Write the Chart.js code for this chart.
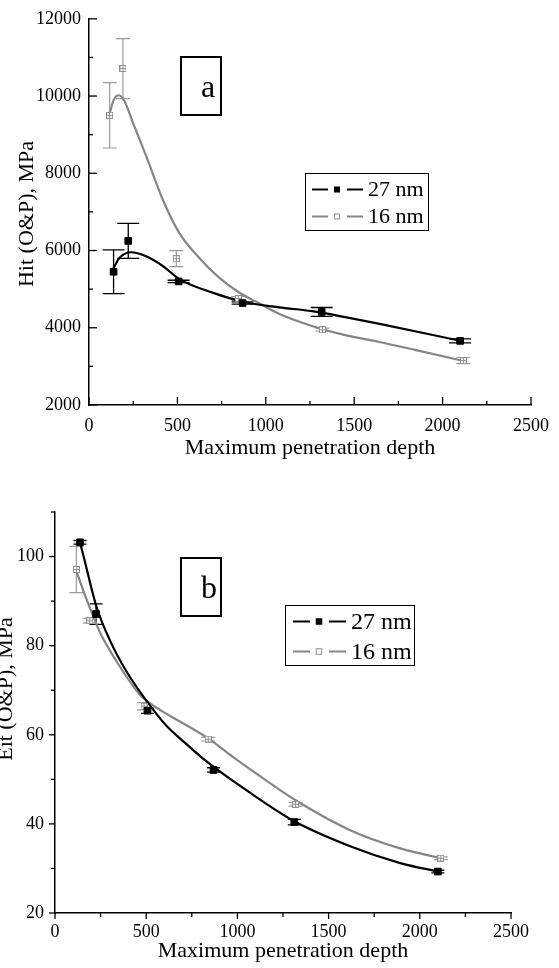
<!DOCTYPE html>
<html>
<head>
<meta charset="utf-8">
<script src="https://cdn.jsdelivr.net/npm/chart.js@4.4.1/dist/chart.umd.min.js"></script>
<style>
  html, body { margin: 0; padding: 0; background: #fff; }
  body { width: 559px; height: 968px; position: relative; overflow: hidden; }
  #c1 { position: absolute; left: 0; top: 0; }
  #c2 { position: absolute; left: -20px; top: 470px; }
</style>
</head>
<body>
<canvas id="c1" width="559" height="480" style="width:559px;height:480px"></canvas>
<canvas id="c2" width="579" height="498" style="width:579px;height:498px"></canvas>
<script>
// ---------- Data ----------
// Panel a: Hit (O&P), MPa
const depthA27 = [139, 222, 507, 869, 1316, 2099];
const hitA27 = [5450, 6250, 5200, 4640, 4410, 3660];
const hitA27Err = [565, 455, 30, 30, 115, 50];
const depthA16 = [117, 192, 494, 845, 1320, 2117];
const hitA16 = [9500, 10710, 5790, 4760, 3950, 3150];
const hitA16Err = [845, 775, 205, 50, 40, 80];
// fitted curves
const fitA27X = [135, 173, 239, 323, 417, 511, 698, 886, 1074, 1261, 1449, 1637, 2099];
const fitA27Y = [5510, 5810, 5955, 5850, 5600, 5260, 4910, 4660, 4530, 4430, 4276, 4107, 3663];
const fitA16X = [117, 140, 168, 200, 248, 323, 417, 511, 624, 736, 849, 962, 1074, 1261, 1449, 1637, 1850, 2106];
const fitA16Y = [9550, 9900, 10020, 9870, 9320, 8450, 7320, 6450, 5808, 5297, 4914, 4633, 4362, 4046, 3808, 3637, 3420, 3152];

// Panel b: Eit (O&P), MPa
const depthB27 = [137, 225, 507, 869, 1312, 2099];
const eitB27 = [103.2, 87.1, 65.4, 52.1, 40.4, 29.3];
const eitB27Err = [0.4, 2.3, 0.6, 0.5, 0.6, 0.3];
const depthB16 = [117, 190, 488, 840, 1319, 2115];
const eitB16 = [97.1, 85.6, 66.4, 59.0, 44.4, 32.3];
const eitB16Err = [5.2, 0.5, 0.8, 0.4, 0.4, 0.3];
const fitB27X = [137, 160, 227, 300, 392, 502, 611, 721, 822, 1069, 1312, 1618, 1893, 2099];
const fitB27Y = [103.2, 99.5, 88.8, 81.3, 74.2, 67.6, 62.0, 57.9, 54.3, 47.0, 40.6, 35.0, 31.2, 29.3];
const fitB16X = [117, 172, 218, 246, 337, 465, 510, 840, 977, 1069, 1319, 1618, 1893, 2115];
const fitB16Y = [96.8, 90.5, 85.8, 83.0, 76.5, 69.0, 67.4, 59.2, 55.0, 52.3, 45.3, 38.6, 34.5, 32.3];

// Axis ranges / tick labels
const xRange = [0, 2500];
const xStep = 500;
const yRangeA = [2000, 12000];
const yStepA = 2000;
const yRangeB = [20, 110];
const yStepB = 20;

const seriesNames = ['27 nm', '16 nm'];
const panelLetters = ['a', 'b'];
const xTitle = 'Maximum penetration depth';
const yTitleA = 'Hit (O&P), MPa';
const yTitleB = 'Eit (O&P), MPa';

// ---------- helpers ----------
const SERIF = '"Liberation Serif", "Times New Roman", Times, serif';
Chart.defaults.font.family = SERIF;
Chart.defaults.color = '#000';

const zip = (xs, ys) => xs.map((x, i) => ({ x, y: ys[i] }));
const plain = v => String(v);
const GRAY_LINE = '#858585';
const GRAY_MARK = '#8f8f8f';

function grayMarker(size) {
  const c = document.createElement('canvas');
  c.width = size; c.height = size;
  const g = c.getContext('2d');
  g.fillStyle = '#fff';
  g.fillRect(0, 0, size, size);
  g.strokeStyle = GRAY_MARK;
  g.lineWidth = 1;
  g.strokeRect(0.5, 0.5, size - 1, size - 1);
  g.beginPath();
  g.moveTo(size / 2, 0); g.lineTo(size / 2, size);
  g.moveTo(0, size / 2); g.lineTo(size, size / 2);
  g.stroke();
  return c;
}

const errorBars = {
  id: 'errorBars',
  beforeDatasetsDraw(chart) {
    const { ctx } = chart;
    const xs = chart.scales.x, ys = chart.scales.y;
    chart.data.datasets.forEach(ds => {
      if (!ds.errors) return;
      ctx.save();
      ctx.strokeStyle = ds.errorColor;
      ctx.lineWidth = ds.errorWidth || 1;
      ds.data.forEach((p, j) => {
        const e = ds.errors[j];
        const px = xs.getPixelForValue(p.x);
        const t = ys.getPixelForValue(p.y + e);
        const b = ys.getPixelForValue(p.y - e);
        const hw = ds.capHalf;
        ctx.beginPath();
        ctx.moveTo(px, t); ctx.lineTo(px, b);
        ctx.moveTo(px - hw, t); ctx.lineTo(px + hw, t);
        ctx.moveTo(px - hw, b); ctx.lineTo(px + hw, b);
        ctx.stroke();
      });
      ctx.restore();
    });
  }
};

const decor = {
  id: 'decor',
  afterDraw(chart, args, o) {
    const ctx = chart.ctx;
    const xs = chart.scales.x, ys = chart.scales.y;
    const area = chart.chartArea;
    const dir = o.inward ? 1 : -1;
    ctx.save();
    ctx.strokeStyle = '#000';
    ctx.lineWidth = 1.3;
    // x ticks
    for (let v = xs.min; v <= xs.max + 1e-6; v += o.xMinor) {
      const major = Math.abs(((v - xs.min) / o.xMajor) - Math.round((v - xs.min) / o.xMajor)) < 1e-6;
      const len = major ? o.majorLen : o.minorLen;
      const px = xs.getPixelForValue(v);
      ctx.beginPath();
      ctx.moveTo(px, area.bottom);
      ctx.lineTo(px, area.bottom - dir * len);
      ctx.stroke();
    }
    // y ticks
    for (let v = ys.min; v <= ys.max + 1e-6; v += o.yMinor) {
      const major = Math.abs(((v - ys.min) / o.yMajor) - Math.round((v - ys.min) / o.yMajor)) < 1e-6;
      const len = major ? o.majorLen : o.minorLen;
      const py = ys.getPixelForValue(v);
      ctx.beginPath();
      ctx.moveTo(area.left, py);
      ctx.lineTo(area.left + dir * len, py);
      ctx.stroke();
    }
    // y-axis title
    const yt = o.yTitle;
    ctx.save();
    ctx.translate(yt.x, yt.y);
    ctx.rotate(-Math.PI / 2);
    ctx.fillStyle = '#000';
    ctx.font = yt.size + 'px ' + SERIF;
    ctx.textAlign = 'center';
    ctx.textBaseline = 'middle';
    ctx.fillText(yt.text, 0, 0);
    ctx.restore();
    // panel letter box
    const bx = o.box;
    ctx.lineWidth = 2;
    ctx.strokeStyle = '#000';
    ctx.strokeRect(bx.x, bx.y, bx.w, bx.h);
    ctx.fillStyle = '#000';
    ctx.font = bx.size + 'px ' + SERIF;
    ctx.textAlign = 'left';
    ctx.textBaseline = 'alphabetic';
    ctx.fillText(bx.text, bx.tx, bx.ty);
    // legend
    const L = o.legend;
    ctx.lineWidth = 1;
    ctx.strokeStyle = '#000';
    ctx.strokeRect(L.x + 0.5, L.y + 0.5, L.w, L.h);
    L.rows.forEach(r => {
      ctx.strokeStyle = r.color;
      ctx.lineWidth = 2;
      ctx.beginPath();
      ctx.moveTo(L.l1[0], r.y); ctx.lineTo(L.l1[1], r.y);
      ctx.moveTo(L.l2[0], r.y); ctx.lineTo(L.l2[1], r.y);
      ctx.stroke();
      const s = L.sq;
      if (r.filled) {
        ctx.fillStyle = r.color;
        ctx.fillRect(L.sqx - s / 2, r.y - s / 2, s, s);
      } else {
        ctx.fillStyle = '#fff';
        ctx.fillRect(L.sqx - s / 2, r.y - s / 2, s, s);
        ctx.lineWidth = 1;
        ctx.strokeStyle = GRAY_MARK;
        ctx.strokeRect(L.sqx - s / 2 + 0.5, r.y - s / 2 + 0.5, s - 1, s - 1);
      }
      ctx.fillStyle = '#000';
      ctx.font = L.size + 'px ' + SERIF;
      ctx.textBaseline = 'middle';
      ctx.fillText(r.text, L.tx, r.y + 1);
    });
    ctx.restore();
  }
};

function makeChart(id, cfg) {
  return new Chart(document.getElementById(id), {
    type: 'scatter',
    data: {
      datasets: [
        { label: seriesNames[0], data: zip(cfg.x27, cfg.y27), showLine: false,
          pointStyle: 'rect', pointRadius: 4.7, pointHoverRadius: 4.7,
          backgroundColor: '#000', borderColor: '#000', borderWidth: 1,
          errors: cfg.e27, errorColor: '#000', errorWidth: 1.3, capHalf: cfg.cap27 },
        { label: seriesNames[1], data: zip(cfg.x16, cfg.y16), showLine: false,
          pointStyle: grayMarker(7), pointRadius: 4, backgroundColor: '#fff', borderColor: GRAY_MARK,
          errors: cfg.e16, errorColor: '#9a9a9a', errorWidth: 1.2, capHalf: cfg.cap16 },
        { label: seriesNames[0] + ' fit', data: zip(cfg.fx27, cfg.fy27), showLine: true,
          borderColor: '#000', borderWidth: 2.2, pointRadius: 0, cubicInterpolationMode: 'monotone' },
        { label: seriesNames[1] + ' fit', data: zip(cfg.fx16, cfg.fy16), showLine: true,
          borderColor: GRAY_LINE, borderWidth: 2.2, pointRadius: 0, cubicInterpolationMode: 'monotone' }
      ]
    },
    options: {
      responsive: false,
      animation: false,
      events: [],
      layout: { padding: cfg.padding },
      plugins: {
        legend: { display: false },
        tooltip: { enabled: false },
        decor: cfg.decor
      },
      scales: {
        x: {
          type: 'linear', min: xRange[0], max: xRange[1],
          ticks: { stepSize: xStep, font: { size: 18 }, padding: cfg.xTickPad, maxRotation: 0, includeBounds: false, callback: plain },
          grid: { display: false, drawTicks: false },
          border: { display: true, color: '#000', width: 1.5 },
          title: { display: true, text: xTitle, font: { size: 22 }, padding: { top: 0, bottom: cfg.xTitlePad } },
          afterFit: s => { s.height = cfg.xHeight; }
        },
        y: {
          type: 'linear', min: cfg.yRange[0], max: cfg.yRange[1],
          ticks: { stepSize: cfg.yStep, font: { size: 18 }, padding: cfg.yTickPad, includeBounds: false, callback: plain },
          grid: { display: false, drawTicks: false },
          border: { display: true, color: '#000', width: 1.5 },
          title: { display: false, text: cfg.yTitle },
          afterFit: s => { s.width = cfg.yWidth; }
        }
      }
    },
    plugins: [errorBars, decor]
  });
}

// Panel a
makeChart('c1', {
  x27: depthA27, y27: hitA27, e27: hitA27Err, cap27: 11,
  x16: depthA16, y16: hitA16, e16: hitA16Err, cap16: 7,
  fx27: fitA27X, fy27: fitA27Y, fx16: fitA16X, fy16: fitA16Y,
  yRange: yRangeA, yStep: yStepA, yTitle: yTitleA,
  padding: { top: 14, right: 26, left: 0, bottom: 0 },
  xHeight: 75, yWidth: 89,
  xTickPad: 10, yTickPad: 8, xTitlePad: 19,
  decor: {
    inward: true, majorLen: 8, minorLen: 4,
    xMajor: 500, xMinor: 250, yMajor: 2000, yMinor: 1000,
    yTitle: { text: yTitleA, x: 27, y: 214, size: 22 },
    box: { x: 181, y: 57, w: 40, h: 58, text: panelLetters[0], size: 32, tx: 201, ty: 97 },
    legend: { x: 305, y: 173, w: 123, h: 57, l1: [312, 328], l2: [347, 363], sqx: 337, sq: 6, tx: 368, size: 22,
      rows: [ { y: 189.5, color: '#000', filled: true, text: seriesNames[0] },
              { y: 216.5, color: GRAY_LINE, filled: false, text: seriesNames[1] } ] }
  }
});

// Panel b (canvas shifted 20px left, 470px down)
makeChart('c2', {
  x27: depthB27, y27: eitB27, e27: eitB27Err, cap27: 6.5,
  x16: depthB16, y16: eitB16, e16: eitB16Err, cap16: 7,
  fx27: fitB27X, fy27: fitB27Y, fx16: fitB16X, fy16: fitB16Y,
  yRange: yRangeB, yStep: yStepB, yTitle: yTitleB,
  padding: { top: 42, right: 48, left: 0, bottom: 0 },
  xHeight: 55, yWidth: 75,
  xTickPad: 8, yTickPad: 11, xTitlePad: 4,
  decor: {
    inward: false, majorLen: 6, minorLen: 4,
    xMajor: 500, xMinor: 250, yMajor: 20, yMinor: 10,
    yTitle: { text: yTitleB, x: 26, y: 219, size: 22 },
    box: { x: 201, y: 88, w: 40, h: 58, text: panelLetters[1], size: 32, tx: 221, ty: 128 },
    legend: { x: 305, y: 135, w: 129, h: 60, l1: [313, 330], l2: [349, 366], sqx: 339, sq: 6.5, tx: 371, size: 24,
      rows: [ { y: 151.5, color: '#000', filled: true, text: seriesNames[0] },
              { y: 181.5, color: GRAY_LINE, filled: false, text: seriesNames[1] } ] }
  }
});
</script>
</body>
</html>
